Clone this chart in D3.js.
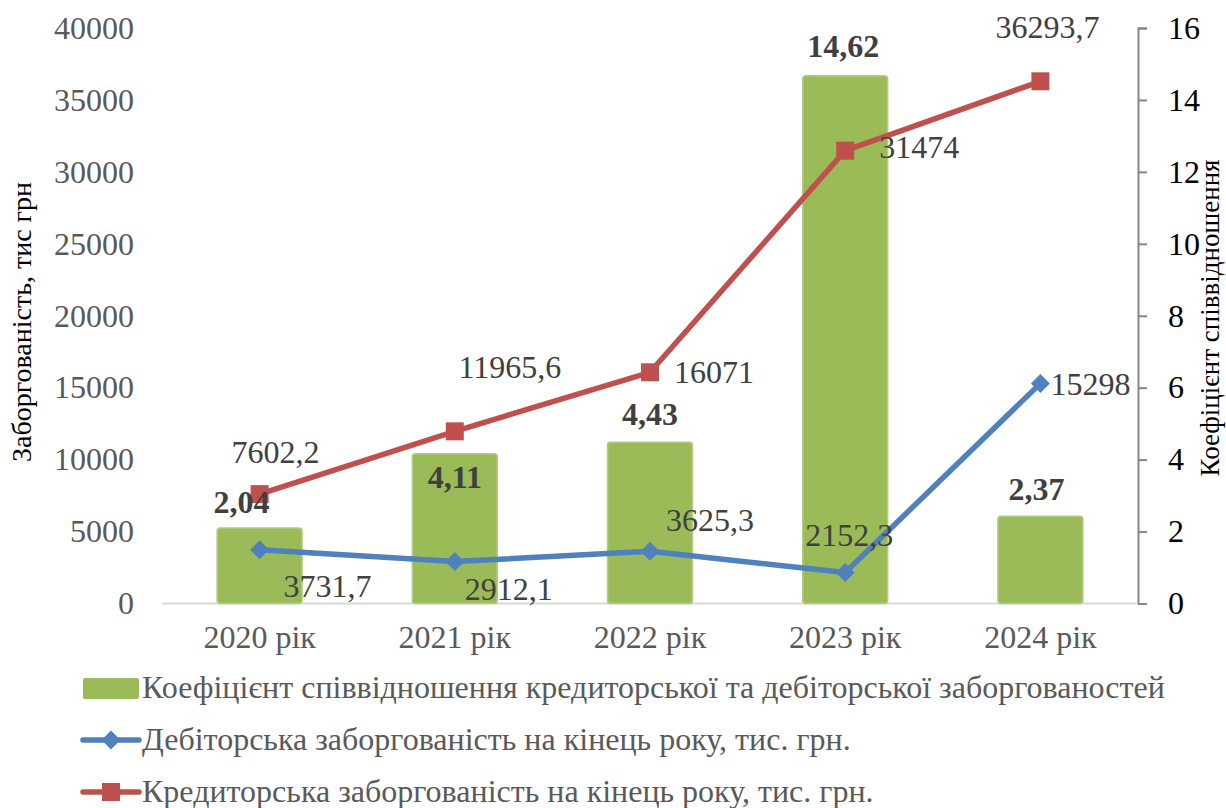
<!DOCTYPE html>
<html>
<head>
<meta charset="utf-8">
<script src="https://cdn.jsdelivr.net/npm/d3@7"></script>
</head>
<body style="margin:0; background:#fff">
<script>
const width = 1226, height = 808;
const serif = "'Liberation Serif', 'Times New Roman', serif";

// data
const years = ["2020 рік", "2021 рік", "2022 рік", "2023 рік", "2024 рік"];
const ratio = [2.04, 4.11, 4.43, 14.62, 2.37];
const receivable = [3731.7, 2912.1, 3625.3, 2152.3, 15298];
const payable = [7602.2, 11965.6, 16071, 31474, 36293.7];
const leftTicks = [0, 5000, 10000, 15000, 20000, 25000, 30000, 35000, 40000];
const rightTicks = [0, 2, 4, 6, 8, 10, 12, 14, 16];
const legendNames = [
  "Коефіцієнт співвідношення кредиторської та дебіторської заборгованостей",
  "Дебіторська заборгованість на кінець року, тис. грн.",
  "Кредиторська заборгованість на кінець року, тис. грн."
];

// label nudges (dx, dy) as placed by hand in the original
const ratioOff = [[-18, -17], [0, 32], [0, -19], [-2, -21], [-4, -18]];
const recvOff = [[68, 47], [54, 38], [60, -20], [4, -27], [50, 12]];
const payOff = [[16, -31], [55, -53], [64, 11], [74, 7], [7, -43]];

const green = "#9BBB59", blue = "#4F81BD", red = "#C0504D";
const fmt = d => String(d).replace(".", ",");

const svg = d3.select("body").append("svg")
  .attr("width", width)
  .attr("height", height)
  .style("font-family", serif);

const x = d3.scaleBand().domain(years).range([162, 1138]);
const yL = d3.scaleLinear().domain([0, 40000]).range([603.5, 28]);
const yR = d3.scaleLinear().domain([0, 16]).range([603.5, 28]);
const cx = d => x(d) + x.bandwidth() / 2;
const barW = x.bandwidth() * 0.435;

// left axis (labels only)
svg.append("g")
  .attr("transform", "translate(134,0)")
  .call(d3.axisLeft(yL).tickValues(leftTicks).tickSize(0).tickPadding(0).tickFormat(d => d))
  .call(g => g.attr("font-family", null).attr("font-size", null))
  .call(g => g.select(".domain").remove())
  .selectAll("text")
    .style("font-family", serif)
    .style("font-size", "32px")
    .attr("fill", "#595959");

// right axis
svg.append("g")
  .attr("transform", "translate(1138,0)")
  .call(d3.axisRight(yR).tickValues(rightTicks).tickSize(9).tickPadding(21).tickSizeOuter(9))
  .call(g => g.attr("font-family", null).attr("font-size", null))
  .call(g => g.select(".domain").attr("stroke", "#868686").attr("stroke-width", 2))
  .call(g => g.selectAll(".tick line").attr("stroke", "#868686").attr("stroke-width", 2))
  .selectAll("text")
    .style("font-family", serif)
    .style("font-size", "32px")
    .attr("fill", "#000");

// zero baseline
svg.append("line")
  .attr("x1", 162).attr("x2", 1138)
  .attr("y1", yL(0)).attr("y2", yL(0))
  .attr("stroke", "#D9D9D9").attr("stroke-width", 2);

// category labels
svg.append("g")
  .selectAll("text")
  .data(years)
  .join("text")
    .attr("x", d => cx(d))
    .attr("y", 648)
    .attr("text-anchor", "middle")
    .style("font-size", "32px")
    .attr("fill", "#595959")
    .text(d => d);

// axis titles
svg.append("text")
  .attr("transform", "translate(31,322) rotate(-90)")
  .attr("text-anchor", "middle")
  .style("font-size", "28px")
  .attr("fill", "#000")
  .text("Заборгованість, тис грн");

svg.append("text")
  .attr("transform", "translate(1219,318) rotate(-90)")
  .attr("text-anchor", "middle")
  .style("font-size", "27px")
  .attr("fill", "#000")
  .text("Коефіцієнт співвідношення");

// bars
svg.append("g")
  .selectAll("rect")
  .data(ratio)
  .join("rect")
    .attr("x", (d, i) => cx(years[i]) - barW / 2)
    .attr("y", d => yR(d) - 2)
    .attr("width", barW)
    .attr("height", d => yR(0) - yR(d) + 2)
    .attr("rx", 3)
    .attr("fill", green)
    .attr("stroke", "#B3CB83")
    .attr("stroke-width", 1.5);

// lines
const lineL = d3.line().x((d, i) => cx(years[i])).y(d => yL(d));

svg.append("path")
  .datum(payable)
  .attr("d", lineL)
  .attr("fill", "none")
  .attr("stroke", red)
  .attr("stroke-width", 5.5)
  .attr("stroke-linejoin", "round");

svg.append("path")
  .datum(receivable)
  .attr("d", lineL)
  .attr("fill", "none")
  .attr("stroke", blue)
  .attr("stroke-width", 5.5)
  .attr("stroke-linejoin", "round");

const sq = d3.symbol().type(d3.symbolSquare).size(324);
const dia = d3.symbol().type(d3.symbolDiamond2).size(230);

svg.append("g")
  .selectAll("path")
  .data(payable)
  .join("path")
    .attr("transform", (d, i) => `translate(${cx(years[i])},${yL(d)})`)
    .attr("d", sq)
    .attr("fill", red);

svg.append("g")
  .selectAll("path")
  .data(receivable)
  .join("path")
    .attr("transform", (d, i) => `translate(${cx(years[i])},${yL(d)})`)
    .attr("d", dia)
    .attr("fill", blue);

// data labels
svg.append("g")
  .selectAll("text")
  .data(ratio)
  .join("text")
    .attr("x", (d, i) => cx(years[i]) + ratioOff[i][0])
    .attr("y", (d, i) => yR(d) + ratioOff[i][1])
    .attr("text-anchor", "middle")
    .style("font-size", "32px")
    .attr("font-weight", "bold")
    .attr("fill", "#404040")
    .text(fmt);

svg.append("g")
  .selectAll("text")
  .data(receivable)
  .join("text")
    .attr("x", (d, i) => cx(years[i]) + recvOff[i][0])
    .attr("y", (d, i) => yL(d) + recvOff[i][1])
    .attr("text-anchor", "middle")
    .style("font-size", "32px")
    .attr("fill", "#404040")
    .text(fmt);

svg.append("g")
  .selectAll("text")
  .data(payable)
  .join("text")
    .attr("x", (d, i) => cx(years[i]) + payOff[i][0])
    .attr("y", (d, i) => yL(d) + payOff[i][1])
    .attr("text-anchor", "middle")
    .style("font-size", "32px")
    .attr("fill", "#404040")
    .text(fmt);

// legend
const leg = svg.append("g");
const rowY = [688, 740, 792];

leg.append("rect")
  .attr("x", 83).attr("y", rowY[0] - 10)
  .attr("width", 56).attr("height", 21)
  .attr("rx", 2)
  .attr("fill", green);

[blue, red].forEach((c, k) => {
  const yy = rowY[k + 1];
  leg.append("line")
    .attr("x1", 83).attr("x2", 139)
    .attr("y1", yy).attr("y2", yy)
    .attr("stroke", c).attr("stroke-width", 5.5)
    .attr("stroke-linecap", "round");
  leg.append("path")
    .attr("transform", `translate(111,${yy})`)
    .attr("d", k === 0 ? dia : sq)
    .attr("fill", c);
});

leg.selectAll("text")
  .data(legendNames)
  .join("text")
    .attr("x", 142)
    .attr("y", (d, i) => rowY[i] + 10)
    .style("font-size", "32px")
    .attr("fill", "#595959")
    .text(d => d);
</script>
</body>
</html>
